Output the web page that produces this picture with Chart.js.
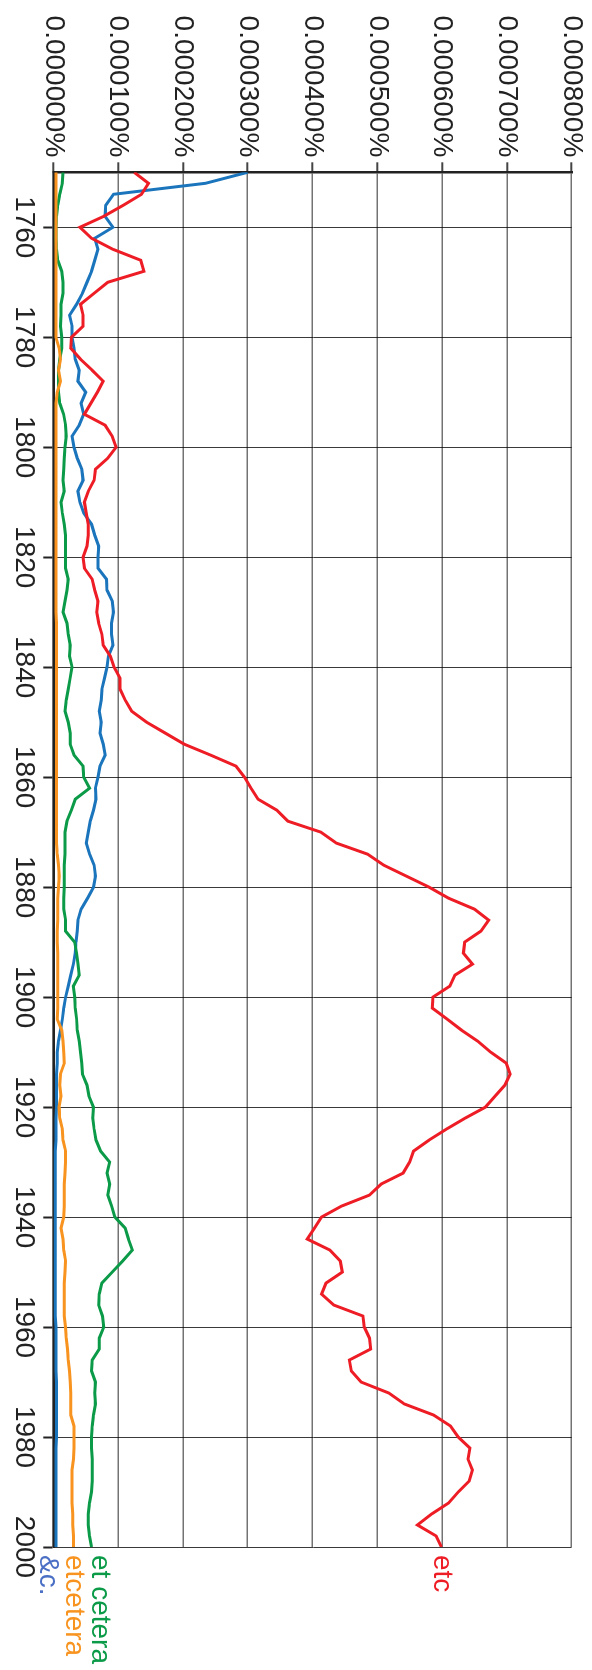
<!DOCTYPE html>
<html>
<head>
<meta charset="utf-8">
<script src="https://cdn.jsdelivr.net/npm/chart.js@4.4.1/dist/chart.umd.min.js"></script>
<style>
  html, body { margin: 0; padding: 0; background: #fff; }
  #wrap { position: relative; width: 592px; height: 1670px; overflow: hidden; }
  /* chart is drawn landscape, then turned a quarter clockwise */
  #rot {
    position: absolute; left: 0; top: 0;
    width: 1670px; height: 592px;
    transform-origin: 0 0;
    transform: translate(592px, 0) rotate(90deg);
  }
  canvas { display: block; }
</style>
</head>
<body>
<div id="wrap">
  <div id="rot"><canvas id="chart" width="1670" height="592"></canvas></div>
</div>
<script>
// values are in units of 0.0001 %
const YEARS = [
  1750, 1752, 1754, 1756, 1758, 1760, 1762, 1764, 1766, 1768,
  1770, 1772, 1774, 1776, 1778, 1780, 1782, 1784, 1786, 1788,
  1790, 1792, 1794, 1796, 1798, 1800, 1802, 1804, 1806, 1808,
  1810, 1812, 1814, 1816, 1818, 1820, 1822, 1824, 1826, 1828,
  1830, 1832, 1834, 1836, 1838, 1840, 1842, 1844, 1846, 1848,
  1850, 1852, 1854, 1856, 1858, 1860, 1862, 1864, 1866, 1868,
  1870, 1872, 1874, 1876, 1878, 1880, 1882, 1884, 1886, 1888,
  1890, 1892, 1894, 1896, 1898, 1900, 1902, 1904, 1906, 1908,
  1910, 1912, 1914, 1916, 1918, 1920, 1922, 1924, 1926, 1928,
  1930, 1932, 1934, 1936, 1938, 1940, 1942, 1944, 1946, 1948,
  1950, 1952, 1954, 1956, 1958, 1960, 1962, 1964, 1966, 1968,
  1970, 1972, 1974, 1976, 1978, 1980, 1982, 1984, 1986, 1988,
  1990, 1992, 1994, 1996, 1998, 2000
];

const ETC = [
  1.25, 1.47, 1.36, 1.08, 0.78, 0.41, 0.59, 0.92, 1.35, 1.40,
  0.84, 0.63, 0.42, 0.46, 0.46, 0.28, 0.27, 0.42, 0.60, 0.77,
  0.68, 0.58, 0.48, 0.80, 0.91, 0.97, 0.84, 0.65, 0.63, 0.54,
  0.48, 0.51, 0.54, 0.54, 0.52, 0.46, 0.48, 0.60, 0.64, 0.69,
  0.67, 0.70, 0.75, 0.77, 0.88, 0.94, 1.03, 1.03, 1.11, 1.21,
  1.44, 1.73, 2.02, 2.43, 2.82, 2.95, 3.05, 3.16, 3.45, 3.62,
  4.13, 4.37, 4.85, 5.10, 5.45, 5.80, 6.10, 6.50, 6.72, 6.60,
  6.35, 6.33, 6.47, 6.20, 6.12, 5.86, 5.85, 6.08, 6.30, 6.55,
  6.75, 6.99, 7.05, 6.97, 6.82, 6.67, 6.36, 6.07, 5.80, 5.56,
  5.50, 5.40, 5.06, 4.88, 4.45, 4.14, 4.03, 3.92, 4.27, 4.43,
  4.46, 4.21, 4.14, 4.33, 4.78, 4.80, 4.88, 4.90, 4.57, 4.60,
  4.75, 5.18, 5.42, 5.87, 6.13, 6.25, 6.43, 6.40, 6.47, 6.42,
  6.25, 6.10, 5.84, 5.62, 5.91, 5.99
];

const ET_CETERA = [
  0.15, 0.14, 0.10, 0.07, 0.05, 0.04, 0.04, 0.05, 0.07, 0.13,
  0.15, 0.15, 0.12, 0.12, 0.11, 0.13, 0.13, 0.10, 0.08, 0.08,
  0.08, 0.10, 0.16, 0.19, 0.20, 0.18, 0.17, 0.16, 0.15, 0.17,
  0.12, 0.14, 0.17, 0.19, 0.19, 0.19, 0.19, 0.23, 0.21, 0.18,
  0.15, 0.21, 0.23, 0.26, 0.25, 0.29, 0.26, 0.23, 0.20, 0.18,
  0.23, 0.26, 0.26, 0.32, 0.46, 0.47, 0.56, 0.34, 0.28, 0.21,
  0.18, 0.18, 0.18, 0.17, 0.17, 0.17, 0.16, 0.16, 0.19, 0.19,
  0.33, 0.36, 0.38, 0.40, 0.31, 0.33, 0.34, 0.36, 0.37, 0.40,
  0.42, 0.44, 0.45, 0.52, 0.55, 0.62, 0.61, 0.63, 0.66, 0.73,
  0.87, 0.83, 0.87, 0.84, 0.90, 0.95, 1.11, 1.16, 1.22, 1.07,
  0.91, 0.75, 0.71, 0.70, 0.76, 0.78, 0.71, 0.71, 0.60, 0.59,
  0.65, 0.64, 0.65, 0.62, 0.60, 0.59, 0.59, 0.60, 0.60, 0.60,
  0.59, 0.56, 0.54, 0.54, 0.56, 0.59
];

const ETCETERA = [
  0.04, 0.04, 0.04, 0.04, 0.04, 0.04, 0.04, 0.04, 0.04, 0.04,
  0.04, 0.04, 0.04, 0.04, 0.04, 0.04, 0.09, 0.11, 0.08, 0.11,
  0.06, 0.04, 0.04, 0.04, 0.04, 0.04, 0.04, 0.04, 0.04, 0.04,
  0.04, 0.04, 0.04, 0.04, 0.04, 0.04, 0.04, 0.04, 0.04, 0.04,
  0.04, 0.05, 0.05, 0.05, 0.05, 0.05, 0.05, 0.05, 0.05, 0.05,
  0.05, 0.05, 0.05, 0.05, 0.05, 0.05, 0.05, 0.05, 0.05, 0.05,
  0.05, 0.05, 0.06, 0.08, 0.09, 0.08, 0.07, 0.07, 0.07, 0.06,
  0.06, 0.07, 0.07, 0.07, 0.07, 0.07, 0.07, 0.06, 0.13, 0.15,
  0.16, 0.17, 0.11, 0.10, 0.12, 0.09, 0.10, 0.14, 0.15, 0.19,
  0.19, 0.18, 0.17, 0.17, 0.17, 0.16, 0.12, 0.15, 0.16, 0.19,
  0.18, 0.17, 0.17, 0.17, 0.17, 0.19, 0.20, 0.22, 0.23, 0.25,
  0.26, 0.27, 0.27, 0.27, 0.32, 0.32, 0.32, 0.31, 0.29, 0.29,
  0.29, 0.29, 0.30, 0.30, 0.31, 0.31
];

const AND_C = [
  3.00, 2.35, 0.93, 0.81, 0.80, 0.92, 0.64, 0.69, 0.64, 0.59,
  0.52, 0.45, 0.36, 0.25, 0.29, 0.29, 0.32, 0.34, 0.40, 0.38,
  0.50, 0.43, 0.47, 0.40, 0.29, 0.32, 0.37, 0.44, 0.46, 0.38,
  0.41, 0.47, 0.59, 0.64, 0.70, 0.69, 0.69, 0.82, 0.83, 0.91,
  0.93, 0.90, 0.90, 0.92, 0.85, 0.83, 0.79, 0.75, 0.74, 0.71,
  0.74, 0.72, 0.77, 0.80, 0.72, 0.69, 0.65, 0.66, 0.62, 0.57,
  0.54, 0.51, 0.56, 0.63, 0.65, 0.62, 0.53, 0.43, 0.38, 0.37,
  0.35, 0.34, 0.31, 0.27, 0.23, 0.19, 0.16, 0.14, 0.11, 0.08,
  0.06, 0.06, 0.05, 0.05, 0.05, 0.05, 0.04, 0.04, 0.04, 0.03,
  0.03, 0.03, 0.03, 0.03, 0.03, 0.03, 0.03, 0.03, 0.03, 0.03,
  0.03, 0.03, 0.03, 0.03, 0.03, 0.04, 0.04, 0.04, 0.04, 0.04,
  0.05, 0.05, 0.05, 0.05, 0.05, 0.05, 0.04, 0.04, 0.04, 0.04,
  0.04, 0.04, 0.04, 0.04, 0.04, 0.04
];

const YEAR_TICKS = [1760, 1780, 1800, 1820, 1840, 1860, 1880, 1900, 1920, 1940, 1960, 1980, 2000];

const FONT = "'Liberation Sans', Arial, Helvetica, sans-serif";
const INK = '#222';

function series(label, values, color, labelColor) {
  return {
    label,
    data: values.map((v, i) => ({ x: YEARS[i], y: v })),
    borderColor: color,
    labelColor: labelColor || color,
    borderWidth: 3,
    pointRadius: 0,
    tension: 0,
    fill: false,
  };
}

// names written at the end of each line, nudged apart when they collide
const endLabels = {
  id: 'endLabels',
  afterDatasetsDraw(chart) {
    const { ctx, chartArea, scales } = chart;
    const gap = 26;
    const items = chart.data.datasets.map(ds => ({
      text: ds.label,
      color: ds.labelColor,
      y: scales.y.getPixelForValue(ds.data[ds.data.length - 1].y),
    })).sort((a, b) => a.y - b.y);

    for (let pass = 0; pass < 20; pass++) {
      let moved = false;
      let i = 0;
      while (i < items.length) {
        let j = i;
        while (j + 1 < items.length && items[j + 1].y - items[j].y < gap - 0.01) j++;
        if (j > i) {
          const mid = items.slice(i, j + 1).reduce((s, it) => s + it.y, 0) / (j - i + 1);
          for (let k = i; k <= j; k++) items[k].y = mid + (k - i - (j - i) / 2) * gap;
          moved = true;
        }
        i = j + 1;
      }
      if (!moved) break;
    }

    ctx.save();
    ctx.font = '28px ' + FONT;
    ctx.textAlign = 'left';
    ctx.textBaseline = 'middle';
    items.forEach(it => {
      ctx.fillStyle = it.color;
      ctx.fillText(it.text, chartArea.right + 8, it.y);
    });
    ctx.restore();
  }
};

new Chart(document.getElementById('chart'), {
  type: 'line',
  data: {
    datasets: [
      series('etc', ETC, '#ee1d25'),
      series('etcetera', ETCETERA, '#f7931e'),
      series('et cetera', ET_CETERA, '#0b9a47'),
      series('&c.', AND_C, '#1b75bc', '#4a6fc4'),
    ],
  },
  options: {
    responsive: false,
    animation: false,
    layout: { padding: { top: 16, right: 123, left: 0, bottom: 0 } },
    plugins: {
      legend: { display: false },
      tooltip: { enabled: false },
    },
    scales: {
      x: {
        type: 'linear',
        min: 1750,
        max: 2000,
        afterBuildTicks: (scale) => { scale.ticks = YEAR_TICKS.map(value => ({ value })); },
        afterFit: (scale) => { scale.height = 53.3; },
        grid: { color: '#3a3a3a', lineWidth: 1, tickLength: 10, tickColor: INK, tickWidth: 2 },
        border: { color: INK, width: 2.5 },
        ticks: {
          autoSkip: false,
          maxRotation: 0,
          padding: 4,
          color: INK,
          font: { family: FONT, size: 28, lineHeight: 1.1 },
          callback: (v) => String(v),
        },
      },
      y: {
        min: 0,
        max: 8,
        afterFit: (scale) => { scale.width = 172.3; },
        grid: { color: 'rgba(0,0,0,0.55)', lineWidth: 1.4, tickLength: 10, tickColor: '#444', tickWidth: 2 },
        border: { color: INK, width: 2.5 },
        ticks: {
          stepSize: 1,
          padding: 5,
          color: INK,
          font: { family: FONT, size: 28, lineHeight: 1.1 },
          callback: (v) => (v / 10000).toFixed(6) + '%',
        },
      },
    },
  },
  plugins: [endLabels],
});
</script>
</body>
</html>
